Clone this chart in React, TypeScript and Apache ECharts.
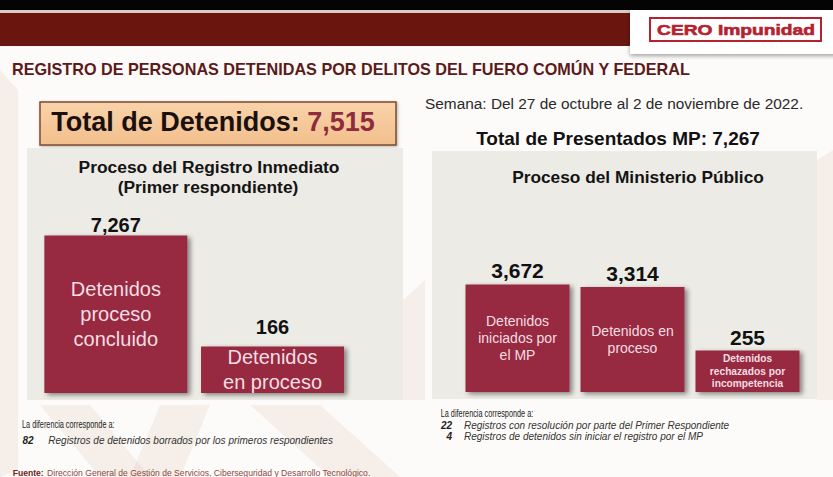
import React, { useEffect, useRef } from "react";
import * as echarts from "echarts";

// ---------- data ----------
const totalDetenidos = 7515;
const totalPresentadosMP = 7267;
const semana = "Semana: Del 27 de octubre al 2 de noviembre de 2022.";

const registroCategories = ["Detenidos\nproceso\nconcluido", "Detenidos\nen proceso"];
const registroValues = [7267, 166];

const mpCategories = [
  "Detenidos\niniciados por\nel MP",
  "Detenidos en\nproceso",
  "Detenidos\nrechazados por\nincompetencia",
];
const mpValues = [3672, 3314, 255];

const registroDiffCounts = [82];
const registroDiffTexts = ["Registros de detenidos borrados por los primeros respondientes"];
const mpDiffCounts = [22, 4];
const mpDiffTexts = [
  "Registros con resolución por parte del Primer Respondiente",
  "Registros de detenidos sin iniciar el registro por el MP",
];

const fmt = (v: number) => v.toLocaleString("en-US");

const FONT = "'Liberation Sans', Arial, Helvetica, sans-serif";
const BAR = "#97293f";
const BAR_TEXT = "#f6dde4";

function txt(x: number, y: number, text: string, style: any, extra: any = {}) {
  return {
    type: "text",
    x,
    y,
    silent: true,
    ...extra,
    style: {
      text,
      fontFamily: FONT,
      align: style.align || "left",
      textAlign: style.align || "left",
      verticalAlign: "middle",
      textVerticalAlign: "middle",
      ...style,
    },
  };
}

export default function App() {
  const ref = useRef<HTMLDivElement>(null);

  useEffect(() => {
    if (!ref.current) return;
    const chart = echarts.init(ref.current, undefined, { renderer: "svg" });

    const shadow = {
      shadowBlur: 5,
      shadowColor: "rgba(0,0,0,0.45)",
      shadowOffsetX: 3,
      shadowOffsetY: 2,
    };

    const registroTopDist = [0, 9];
    const mpInner = [
      { fontSize: 14, lineHeight: 17, fontWeight: "normal" },
      { fontSize: 14, lineHeight: 17, fontWeight: "normal" },
      { fontSize: 10.2, lineHeight: 12.4, fontWeight: "bold" },
    ];

    const wm = "rgba(214,190,168,0.2)";

    const graphic: any[] = [
      // watermark-like faint background shapes
      { type: "polygon", silent: true, shape: { points: [[0, 70], [18, 90], [18, 470], [0, 477]] }, style: { fill: wm } },
      { type: "polygon", silent: true, shape: { points: [[40, 405], [90, 405], [150, 477], [100, 477]] }, style: { fill: wm } },
      { type: "polygon", silent: true, shape: { points: [[160, 405], [210, 405], [180, 477], [130, 477]] }, style: { fill: wm } },
      { type: "polygon", silent: true, shape: { points: [[250, 405], [320, 405], [400, 477], [330, 477]] }, style: { fill: wm } },
      { type: "polygon", silent: true, shape: { points: [[403, 300], [425, 280], [425, 400], [403, 400]] }, style: { fill: wm } },
      { type: "polygon", silent: true, shape: { points: [[817, 160], [833, 150], [833, 400], [817, 400]] }, style: { fill: wm } },

      // header
      { type: "rect", silent: true, shape: { x: 0, y: 0, width: 833, height: 10 }, style: { fill: "#050404" } },
      { type: "rect", silent: true, shape: { x: 0, y: 10, width: 833, height: 3 }, style: { fill: "#d8cccb" } },
      { type: "rect", silent: true, shape: { x: 0, y: 13, width: 833, height: 33 }, style: { fill: "#6b150f" } },
      {
        type: "rect",
        silent: true,
        shape: { x: 630, y: 10, width: 210, height: 44 },
        style: { fill: "#ffffff", shadowBlur: 4, shadowColor: "rgba(0,0,0,0.35)", shadowOffsetY: 2 },
      },
      {
        type: "rect",
        silent: true,
        shape: { x: 650, y: 18, width: 171, height: 23 },
        style: { fill: "#ffffff", stroke: "#b5222f", lineWidth: 2 },
      },
      txt(736, 30, "CERO Impunidad", { align: "center", fontSize: 15.5, fontWeight: "bold", fill: "#b5222f", stroke: "#b5222f", lineWidth: 0.6 }, { scaleX: 1.24 }),

      // title
      txt(12, 69, "REGISTRO DE PERSONAS DETENIDAS POR DELITOS DEL FUERO COMÚN Y FEDERAL", {
        fontSize: 16.2,
        fontWeight: "bold",
        fill: "#5c1a1a",
      }),

      // total box
      {
        type: "rect",
        silent: true,
        shape: { x: 40, y: 102, width: 356, height: 43 },
        style: {
          fill: new echarts.graphic.LinearGradient(0, 0, 0, 1, [
            { offset: 0, color: "#f9d3aa" },
            { offset: 1, color: "#f2bf8c" },
          ]),
          stroke: "#7b4b31",
          lineWidth: 1.5,
          shadowBlur: 3,
          shadowColor: "rgba(0,0,0,0.3)",
          shadowOffsetX: 1,
          shadowOffsetY: 1,
        },
      },
      txt(213, 122, `{a|Total de Detenidos: }{b|${fmt(totalDetenidos)}}`, {
        align: "center",
        rich: {
          a: { fontSize: 27, fontWeight: "bold", fill: "#1a1010", fontFamily: FONT },
          b: { fontSize: 27, fontWeight: "bold", fill: "#8e2b3d", fontFamily: FONT },
        },
      }),

      txt(425, 103, semana, { fontSize: 15.4, fill: "#2a2a2a" }),
      txt(618, 138.5, `Total de Presentados MP: ${fmt(totalPresentadosMP)}`, {
        align: "center",
        fontSize: 19,
        fontWeight: "bold",
        fill: "#111111",
      }),

      // panels
      {
        type: "rect",
        silent: true,
        shape: { x: 27, y: 148, width: 376, height: 252 },
        style: { fill: "#ecebe5" },
      },
      {
        type: "rect",
        silent: true,
        shape: { x: 432, y: 151, width: 385, height: 248 },
        style: { fill: "#ecebe5" },
      },
      txt(209, 166.7, "Proceso del Registro Inmediato", { align: "center", fontSize: 17.4, fontWeight: "bold", fill: "#141414" }),
      txt(208, 187.3, "(Primer respondiente)", { align: "center", fontSize: 17.4, fontWeight: "bold", fill: "#141414" }),
      txt(638, 177, "Proceso del Ministerio Público", { align: "center", fontSize: 17.3, fontWeight: "bold", fill: "#141414" }),

      // footnotes left
      txt(22, 425, "La diferencia corresponde a:", { fontSize: 10.3, fill: "#222222" }, { scaleX: 0.71 }),
      ...registroDiffCounts.map((n, i) =>
        txt(22.5, 440.7 + i * 11.3, String(n), { fontSize: 10, fontWeight: "bold", fontStyle: "italic", fill: "#222222" })
      ),
      ...registroDiffTexts.map((t, i) =>
        txt(48.3, 440.7 + i * 11.3, t, { fontSize: 10, fontStyle: "italic", fill: "#333333" })
      ),

      // footnotes right
      txt(440.7, 414, "La diferencia corresponde a:", { fontSize: 10.3, fill: "#222222" }, { scaleX: 0.71 }),
      ...mpDiffCounts.map((n, i) =>
        txt(452, 425 + i * 11.3, String(n), {
          align: "right",
          fontSize: 10,
          fontWeight: "bold",
          fontStyle: "italic",
          fill: "#222222",
        })
      ),
      ...mpDiffTexts.map((t, i) =>
        txt(464, 425 + i * 11.3, t, { fontSize: 10, fontStyle: "italic", fill: "#333333" })
      ),

      // source
      txt(12.7, 472.5, "{a|Fuente:} {b|Dirección General de Gestión de Servicios, Ciberseguridad y Desarrollo Tecnológico.}", {
        rich: {
          a: { fontSize: 8.6, fontWeight: "bold", fill: "#6e2222", fontFamily: FONT },
          b: { fontSize: 8.6, fill: "#8a4a45", fontFamily: FONT },
        },
      }),
    ];

    const option: any = {
      animation: false,
      backgroundColor: "#fdfbf9",
      textStyle: { fontFamily: FONT },
      graphic: { elements: graphic },
      grid: [
        { left: 37.5, top: 226, width: 313.4, height: 167 },
        { left: 460, top: 259.6, width: 345, height: 132.4 },
      ],
      xAxis: [
        { type: "category", gridIndex: 0, data: registroCategories, show: false },
        { type: "category", gridIndex: 1, data: mpCategories, show: false },
      ],
      yAxis: [
        { type: "log", gridIndex: 0, logBase: 10, min: 34.1, max: 10000, startValue: 34.1, show: false },
        { type: "log", gridIndex: 1, logBase: 10, min: 48.1, max: 10000, startValue: 48.1, show: false },
      ],
      series: [
        {
          type: "bar",
          xAxisIndex: 0,
          yAxisIndex: 0,
          barWidth: 143,
          clip: true,
          data: registroValues,
          itemStyle: { color: BAR, ...shadow },
          label: {
            show: true,
            position: "inside",
            formatter: (p: any) => p.name,
            color: BAR_TEXT,
            fontSize: 20,
            lineHeight: 25,
            fontFamily: FONT,
          },
          z: 3,
        },
        {
          type: "bar",
          xAxisIndex: 0,
          yAxisIndex: 0,
          barWidth: 143,
          barGap: "-100%",
          clip: true,
          data: registroValues.map((v, i) => ({
            value: v,
            label: { distance: registroTopDist[i] },
          })),
          itemStyle: { color: "rgba(0,0,0,0)" },
          label: {
            show: true,
            position: "top",
            formatter: (p: any) => fmt(p.value),
            color: "#111111",
            fontSize: 20,
            fontWeight: "bold",
            fontFamily: FONT,
          },
          z: 4,
        },
        {
          type: "bar",
          xAxisIndex: 1,
          yAxisIndex: 1,
          barWidth: 104,
          clip: true,
          data: mpValues.map((v, i) => ({ value: v, label: mpInner[i] })),
          itemStyle: { color: BAR, ...shadow },
          label: {
            show: true,
            position: "inside",
            formatter: (p: any) => p.name,
            color: BAR_TEXT,
            fontFamily: FONT,
          },
          z: 3,
        },
        {
          type: "bar",
          xAxisIndex: 1,
          yAxisIndex: 1,
          barWidth: 104,
          barGap: "-100%",
          clip: true,
          data: mpValues,
          itemStyle: { color: "rgba(0,0,0,0)" },
          label: {
            show: true,
            position: "top",
            distance: 3,
            formatter: (p: any) => fmt(p.value),
            color: "#111111",
            fontSize: 21,
            fontWeight: "bold",
            fontFamily: FONT,
          },
          z: 4,
        },
      ],
    };

    chart.setOption(option);
    return () => chart.dispose();
  }, []);

  return (
    <div
      ref={ref}
      style={{ position: "fixed", left: 0, top: 0, width: 833, height: 477 }}
    />
  );
}
